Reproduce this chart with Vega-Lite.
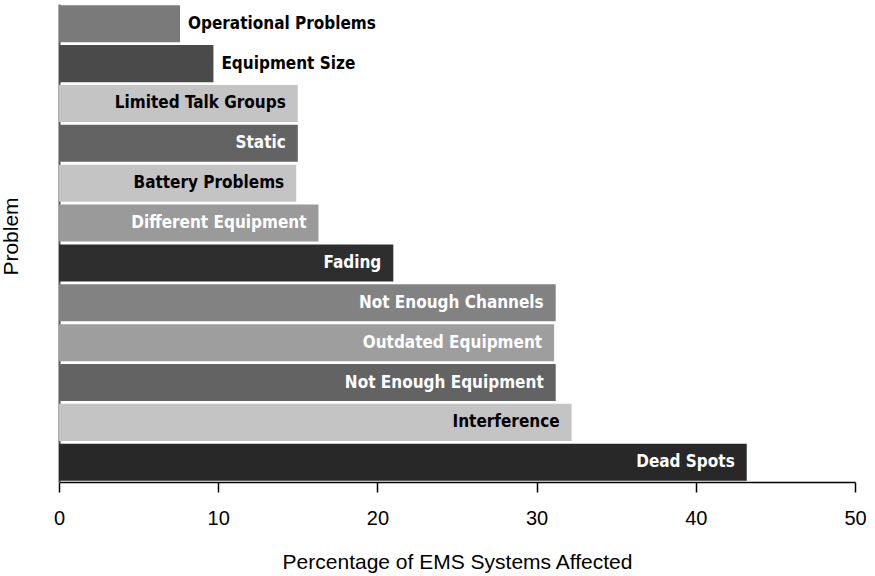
{
  "$schema": "https://vega.github.io/schema/vega-lite/v6.json",
  "width": 796,
  "height": 478,
  "autosize": "none",
  "padding": {"left": 59, "top": 4, "right": 20, "bottom": 94},
  "background": "white",
  "data": {
    "values": [
      {"Problem": "Operational Problems", "Percent": 7.6},
      {"Problem": "Equipment Size", "Percent": 9.7},
      {"Problem": "Limited Talk Groups", "Percent": 15.0},
      {"Problem": "Static", "Percent": 15.0},
      {"Problem": "Battery Problems", "Percent": 14.9},
      {"Problem": "Different Equipment", "Percent": 16.3},
      {"Problem": "Fading", "Percent": 21.0},
      {"Problem": "Not Enough Channels", "Percent": 31.2},
      {"Problem": "Outdated Equipment", "Percent": 31.1},
      {"Problem": "Not Enough Equipment", "Percent": 31.2},
      {"Problem": "Interference", "Percent": 32.2},
      {"Problem": "Dead Spots", "Percent": 43.2}
    ]
  },
  "encoding": {
    "y": {
      "field": "Problem",
      "type": "nominal",
      "sort": null,
      "scale": {"paddingInner": 0.07, "paddingOuter": 0.03},
      "axis": {
        "title": "Problem",
        "labels": false,
        "ticks": false,
        "domainColor": "#555555",
        "domainWidth": 2,
        "titleFont": "Liberation Sans",
        "titleFontWeight": "normal",
        "titleFontSize": 21,
        "titleColor": "#000000",
        "titleX": -38,
        "titleY": 232
      }
    },
    "x": {
      "field": "Percent",
      "type": "quantitative",
      "scale": {"domain": [0, 50], "nice": false},
      "axis": {
        "title": "Percentage of EMS Systems Affected",
        "values": [0, 10, 20, 30, 40, 50],
        "grid": false,
        "labelFlush": false,
        "domainColor": "#000000",
        "domainWidth": 1.5,
        "tickColor": "#000000",
        "tickSize": 10,
        "tickWidth": 1.5,
        "labelFont": "Liberation Sans",
        "labelFontSize": 20,
        "labelColor": "#000000",
        "labelPadding": 16,
        "titleFont": "Liberation Sans",
        "titleFontWeight": "normal",
        "titleFontSize": 21,
        "titleColor": "#000000",
        "titleY": 69
      }
    }
  },
  "layer": [
    {
      "mark": {"type": "bar"},
      "encoding": {
        "color": {
          "field": "Problem",
          "type": "nominal",
          "legend": null,
          "scale": {
            "domain": ["Operational Problems", "Equipment Size", "Limited Talk Groups", "Static", "Battery Problems", "Different Equipment", "Fading", "Not Enough Channels", "Outdated Equipment", "Not Enough Equipment", "Interference", "Dead Spots"],
            "range": ["#7a7a7a", "#4a4a4a", "#c4c4c4", "#636363", "#c4c4c4", "#9a9a9a", "#2e2e2e", "#828282", "#9e9e9e", "#636363", "#c4c4c4", "#282828"]
          }
        }
      }
    },
    {
      "transform": [{"filter": "datum.Percent < 12"}],
      "mark": {"type": "text", "align": "left", "baseline": "middle", "dx": 8, "font": "DejaVu Sans Condensed", "fontWeight": "bold", "fontSize": 17, "fill": "#000000"},
      "encoding": {"text": {"field": "Problem"}}
    },
    {
      "transform": [{"filter": "datum.Percent >= 12"}],
      "mark": {"type": "text", "align": "right", "baseline": "middle", "dx": -12, "font": "DejaVu Sans Condensed", "fontWeight": "bold", "fontSize": 17},
      "encoding": {
        "text": {"field": "Problem"},
        "fill": {
          "condition": {"test": "indexof(['Limited Talk Groups','Battery Problems','Interference'], datum.Problem) >= 0", "value": "#000000"},
          "value": "#ffffff"
        }
      }
    }
  ],
  "config": {"view": {"stroke": null}}
}
